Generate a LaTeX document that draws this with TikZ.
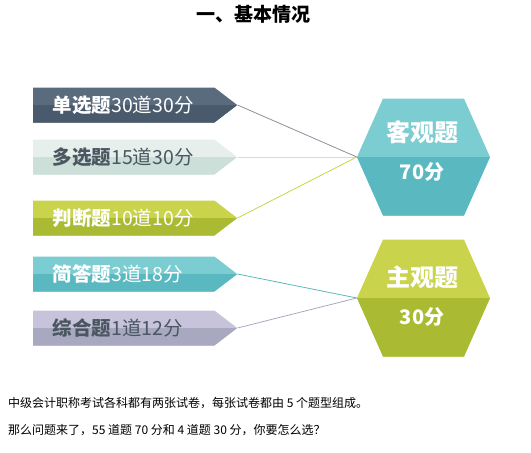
\documentclass[tikz,border=0pt]{standalone}
\usepackage{fontspec}
\setmainfont{Noto Sans CJK SC}
\usetikzlibrary{positioning, shapes.symbols}
\definecolor{slateup}{HTML}{5A6B7E}
\definecolor{slatelow}{HTML}{4A5A6D}
\definecolor{mintup}{HTML}{E6EFEB}
\definecolor{mintlow}{HTML}{CDDFD9}
\definecolor{limeup}{HTML}{C9D44C}
\definecolor{limelow}{HTML}{AABB33}
\definecolor{tealup}{HTML}{7CCDD1}
\definecolor{teallow}{HTML}{5AB8C1}
\definecolor{lilacup}{HTML}{C6C3DA}
\definecolor{lilaclow}{HTML}{A8A9C0}
\definecolor{darktext}{HTML}{4B5661}
\definecolor{slateline}{HTML}{8A919B}

\tikzset{
  banner/.style={shape=signal, signal to=east, signal pointer angle=75,
                 minimum width=204pt, minimum height=35pt, text width=142pt,
                 inner xsep=0pt, inner ysep=0pt, anchor=west, align=left,
                 font=\fontsize{19.5}{19.5}\selectfont},
  hexbox/.style={shape=signal, signal from=nowhere, signal to=west and east,
                 signal pointer angle=132, minimum width=133pt, minimum height=117pt,
                 inner sep=0pt},
  twotone/.style={path picture={\fill[#1] (path picture bounding box.west)
                  rectangle (path picture bounding box.south east);}},
  link/.style={line width=0.8pt},
}

\begin{document}
\begin{tikzpicture}[x=1pt, y=-1pt]
  \useasboundingbox (0,0) rectangle (531,453);
  \node[font=\bfseries\fontsize{19}{19}\selectfont] (title) at (253,14) {一、基本情况};

  % question types
  \node[banner, fill=slateup, twotone=slatelow, text=white] (danxuan) at (33,105) {\textbf{单选题}30道30分};
  \node[banner, fill=mintup, twotone=mintlow, text=darktext] (duoxuan) at (33,157) {\textbf{多选题}15道30分};
  \node[banner, fill=limeup, twotone=limelow, text=white] (panduan) at (33,218) {\textbf{判断题}10道10分};
  \node[banner, fill=tealup, twotone=teallow, text=white] (jianda) at (33,274) {\textbf{简答题}3道18分};
  \node[banner, fill=lilacup, twotone=lilaclow, text=darktext] (zonghe) at (33,328) {\textbf{综合题}1道12分};

  % the two parts
  \node[hexbox, fill=tealup, twotone=teallow] (keguan) at (423.5,157) {};
  \node[hexbox, fill=limeup, twotone=limelow] (zhuguan) at (423.5,298) {};
  \node[text=white, font=\bfseries\fontsize{24}{24}\selectfont] (keguan-t) at (422,132) {客观题};
  \node[text=white, font=\bfseries\fontsize{20}{20}\selectfont] (keguan-s) at (422,172) {70分};
  \node[text=white, font=\bfseries\fontsize{24}{24}\selectfont] (zhuguan-t) at (422,277) {主观题};
  \node[text=white, font=\bfseries\fontsize{20}{20}\selectfont] (zhuguan-s) at (422,317) {30分};

  \draw[link, color=slateline] (danxuan.east) -- (keguan.west);
  \draw[link, color=mintlow] (duoxuan.east) -- (keguan.west);
  \draw[link, color=limeup] (panduan.east) -- (keguan.west);
  \draw[link, color=teallow] (jianda.east) -- (zhuguan.west);
  \draw[link, color=lilaclow] (zonghe.east) -- (zhuguan.west);

  \node[anchor=west, inner sep=0pt, font=\fontsize{12}{12}\selectfont] (note1) at (8,403)
    {中级会计职称考试各科都有两张试卷，每张试卷都由 5 个题型组成。};
  \node[anchor=west, inner sep=0pt, font=\fontsize{12}{12}\selectfont] (note2) at (8,430)
    {那么问题来了，55 道题 70 分和 4 道题 30 分，你要怎么选？};
\end{tikzpicture}
\end{document}
